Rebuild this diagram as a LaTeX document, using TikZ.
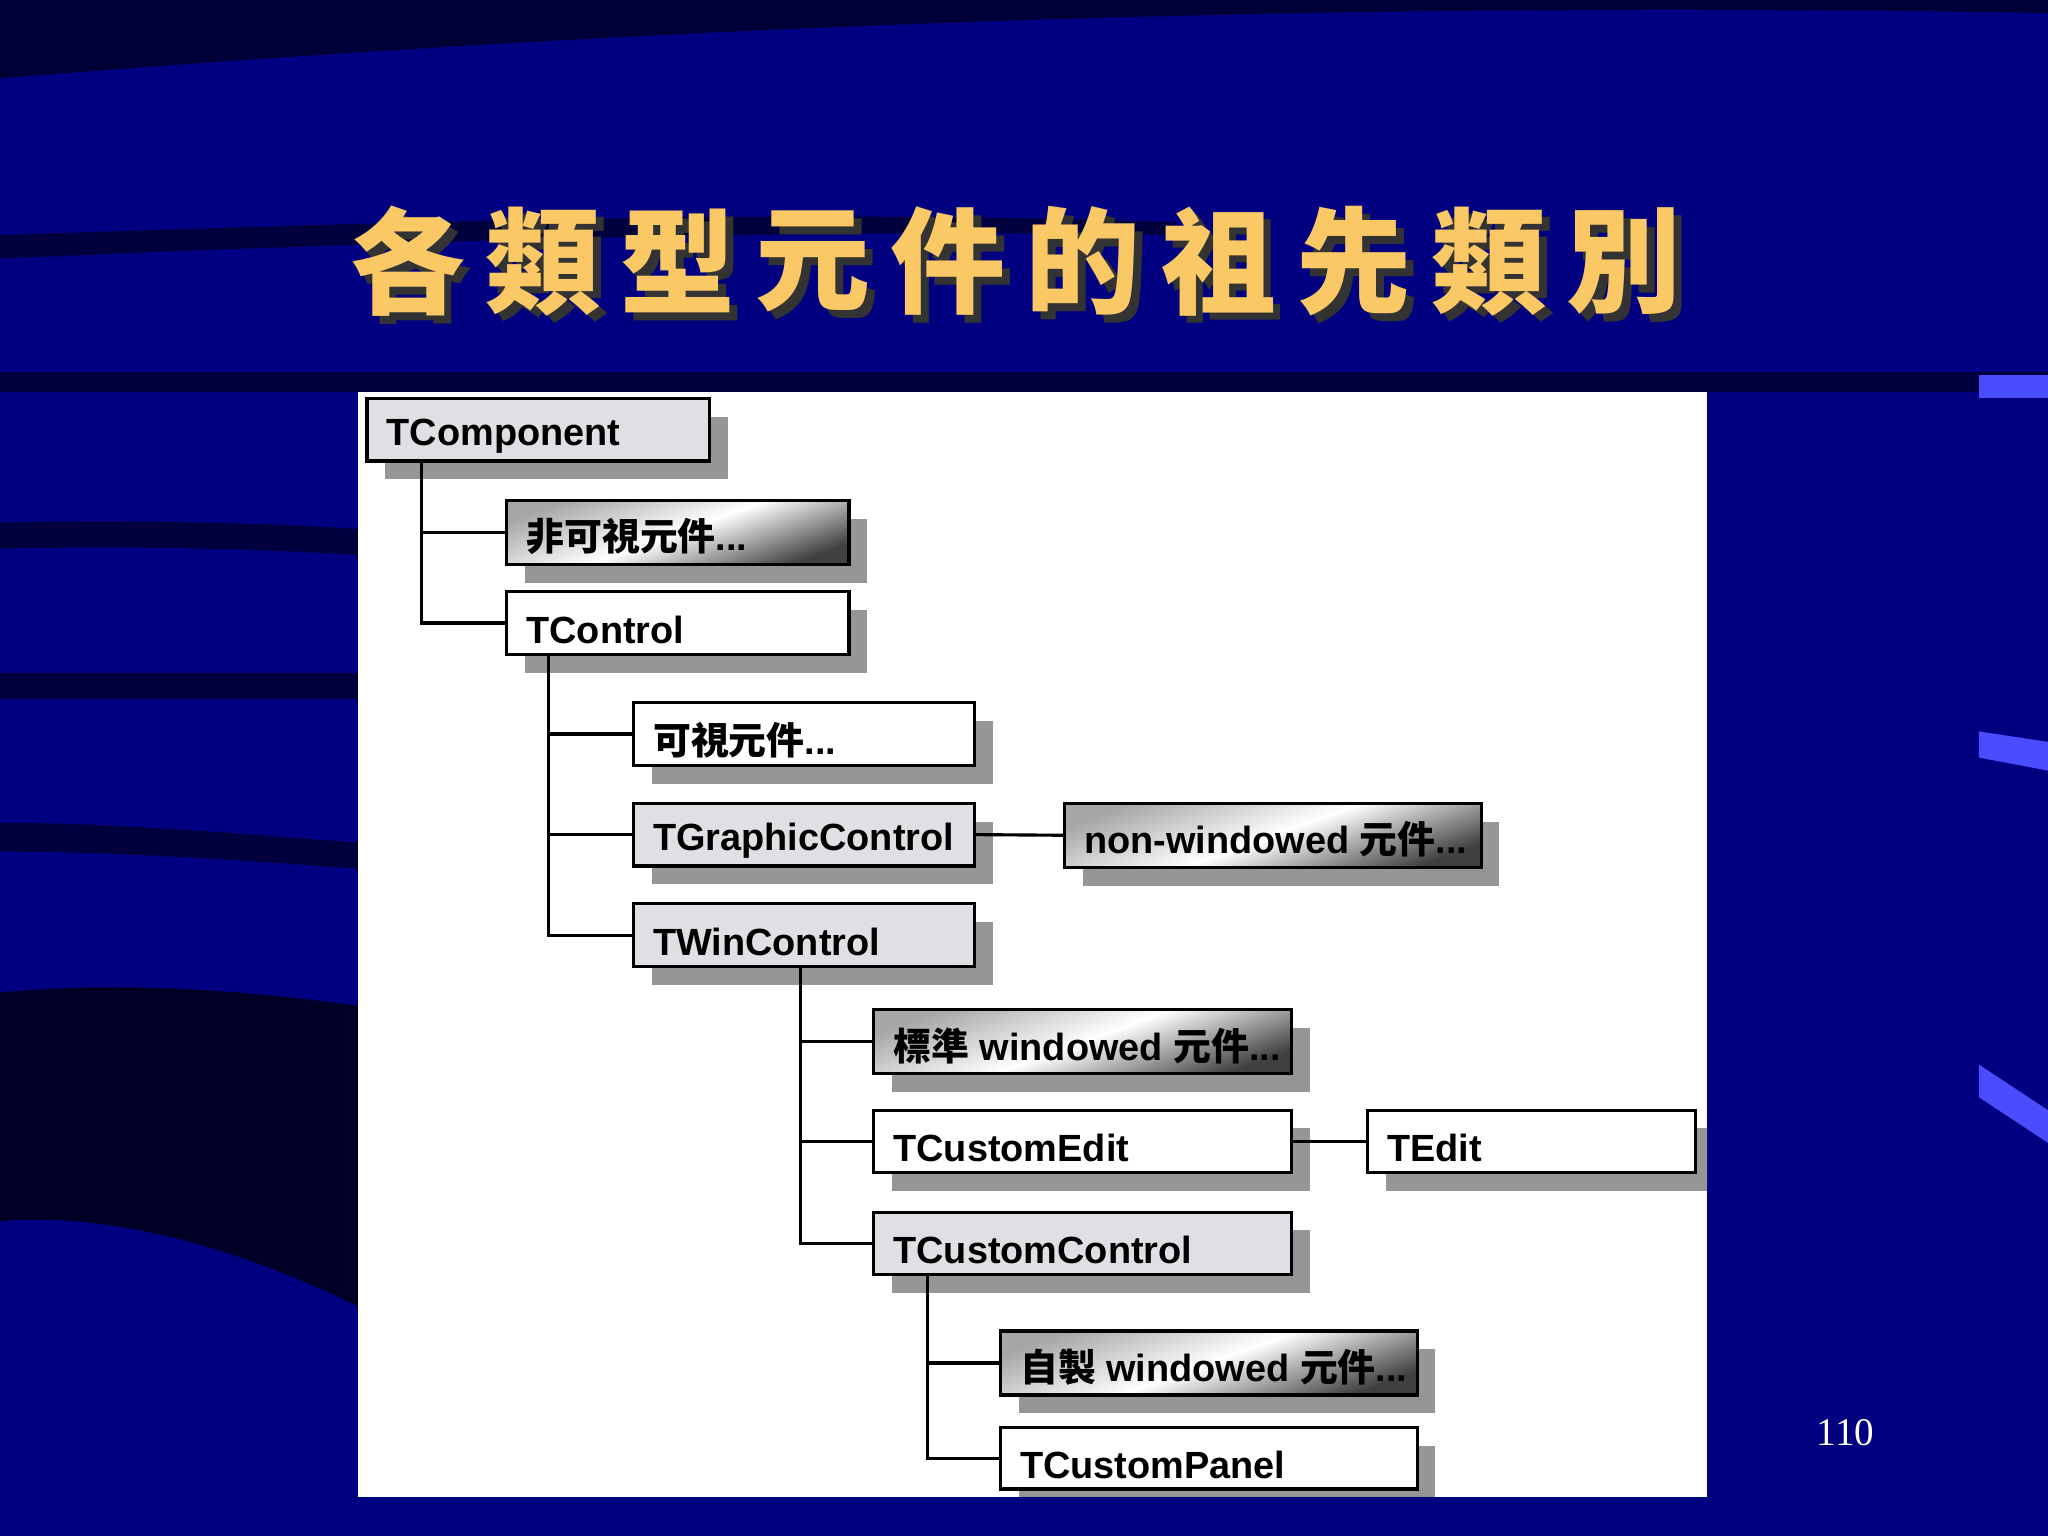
\documentclass[tikz,border=0pt]{standalone}
\usepackage{fontspec}
\setmainfont{Liberation Sans}
\newfontfamily\cjk{Noto Sans CJK TC}
\newfontfamily\numfont{Liberation Serif}
\usetikzlibrary{calc}
\definecolor{bgblue}{RGB}{0,0,128}
\definecolor{boxgray}{RGB}{224,224,228}
\definecolor{shgray}{RGB}{150,150,150}
\definecolor{titleyel}{RGB}{250,200,100}
\tikzset{
 lbl/.style={font=\fontsize{14.5}{16}\selectfont\bfseries, anchor=west, text=black},
 conn/.style={line width=1.2pt, black},
}
\begin{document}
\begin{tikzpicture}[x=0.5pt,y=-0.5pt]
\useasboundingbox (0,0) rectangle (1568,1176);
\fill[bgblue] (0,0) rectangle (1568,1176);
% dark swooping bands
\fill[black,opacity=0.55] (0,60) .. controls (500,20) and (1000,0) .. (1568,10) -- (1568,0) -- (0,0) -- cycle;
\fill[black,opacity=0.5] (0,180) .. controls (300,170) and (600,160) .. (900,170) -- (900,180) .. controls (600,175) and (300,185) .. (0,198) -- cycle;
\fill[black,opacity=0.5] (0,285) rectangle (1568,300);
\fill[black,opacity=0.5] (0,400) .. controls (100,398) and (200,400) .. (274,405) -- (274,425) .. controls (200,420) and (100,418) .. (0,420) -- cycle;
\fill[black,opacity=0.5] (0,515) rectangle (274,535);
\fill[black,opacity=0.5] (0,630) .. controls (100,630) and (200,640) .. (274,645) -- (274,665) .. controls (200,660) and (100,652) .. (0,652) -- cycle;
\fill[black,opacity=0.7] (0,760) .. controls (100,750) and (200,760) .. (274,770) -- (274,1000) .. controls (150,940) and (60,930) .. (0,935) -- cycle;
\fill[blue!70!white] (1515,287) rectangle (1568,305);
\fill[blue!70!white] (1515,560) -- (1568,568) -- (1568,590) -- (1515,580) -- cycle;
\fill[blue!70!white] (1515,815) -- (1568,850) -- (1568,875) -- (1515,840) -- cycle;
% title
\foreach \c [count=\i from 0] in {各,類,型,元,件,的,祖,先,類,別}{
  \node[font=\cjk\fontsize{44}{46}\selectfont\bfseries, text=black!80] at (318+103.5*\i,206) {\c};
  \node[font=\cjk\fontsize{44}{46}\selectfont\bfseries, text=titleyel] at (312+103.5*\i,200) {\c};
}
\node[font=\numfont\fontsize{15}{16}\selectfont, text=white] (pg) at (1413,1097) {110};
% white panel
\fill[white] (274,300) rectangle (1307,1146);
\begin{scope}
\clip (274,300) rectangle (1307,1146);
\def\plainbox#1#2#3#4#5#6{%
 \fill[shgray] (#2+14,#3+14) rectangle (#4+14,#5+14);
 \filldraw[fill=white,draw=black,line width=1.2pt] (#2,#3) rectangle (#4,#5);
 \coordinate (#1-w) at (#2,{(#3+#5)/2}); \coordinate (#1-e) at (#4,{(#3+#5)/2});
 \node[lbl] (#1) at (#2+8,{(#3+#5)/2+5}) {#6};}
\def\graybox#1#2#3#4#5#6{%
 \fill[shgray] (#2+14,#3+14) rectangle (#4+14,#5+14);
 \filldraw[fill=boxgray,draw=black,line width=1.2pt] (#2,#3) rectangle (#4,#5);
 \coordinate (#1-w) at (#2,{(#3+#5)/2}); \coordinate (#1-e) at (#4,{(#3+#5)/2});
 \node[lbl] (#1) at (#2+8,{(#3+#5)/2+5}) {#6};}
\def\gradbox#1#2#3#4#5#6{%
 \fill[shgray] (#2+14,#3+14) rectangle (#4+14,#5+14);
 \shade[top color=gray!70,bottom color=black!75,middle color=white,shading angle=20] (#2,#3) rectangle (#4,#5);
 \draw[black,line width=1.2pt] (#2,#3) rectangle (#4,#5);
 \coordinate (#1-w) at (#2,{(#3+#5)/2}); \coordinate (#1-e) at (#4,{(#3+#5)/2});
 \node[lbl] (#1) at (#2+8,{(#3+#5)/2+3}) {#6};}
\graybox{tcomp}{281}{305}{543}{353}{TComponent}
\gradbox{nonvis}{388}{383}{650}{432}{{\cjk 非可視元件}...}
\plainbox{tctrl}{388}{453}{650}{501}{TControl}
\plainbox{vis}{485}{538}{746}{586}{{\cjk 可視元件}...}
\graybox{tgc}{485}{615}{746}{663}{TGraphicControl}
\gradbox{nonwin}{815}{615}{1134}{664}{non-windowed {\cjk 元件}...}
\graybox{twc}{485}{692}{746}{740}{TWinControl}
\gradbox{stdwin}{669}{773}{989}{822}{{\cjk 標準} windowed {\cjk 元件}...}
\plainbox{tce}{669}{850}{989}{898}{TCustomEdit}
\plainbox{tedit}{1047}{850}{1298}{898}{TEdit}
\graybox{tcc}{669}{928}{989}{976}{TCustomControl}
\gradbox{cuswin}{766}{1019}{1085}{1068}{{\cjk 自製} windowed {\cjk 元件}...}
\plainbox{tcp}{766}{1093}{1085}{1140}{TCustomPanel}
\end{scope}
% connectors
\draw[conn] (323,353) |- (nonvis-w);
\draw[conn] (323,353) |- (tctrl-w);
\draw[conn] (420,501) |- (vis-w);
\draw[conn] (420,501) |- (tgc-w);
\draw[conn] (420,501) |- (twc-w);
\draw[conn] (tgc-e) -- (nonwin-w);
\draw[conn] (613,740) |- (stdwin-w);
\draw[conn] (613,740) |- (tce-w);
\draw[conn] (613,740) |- (tcc-w);
\draw[conn] (tce-e) -- (tedit-w);
\draw[conn] (710,976) |- (cuswin-w);
\draw[conn] (710,976) |- (tcp-w);
\end{tikzpicture}
\end{document}
